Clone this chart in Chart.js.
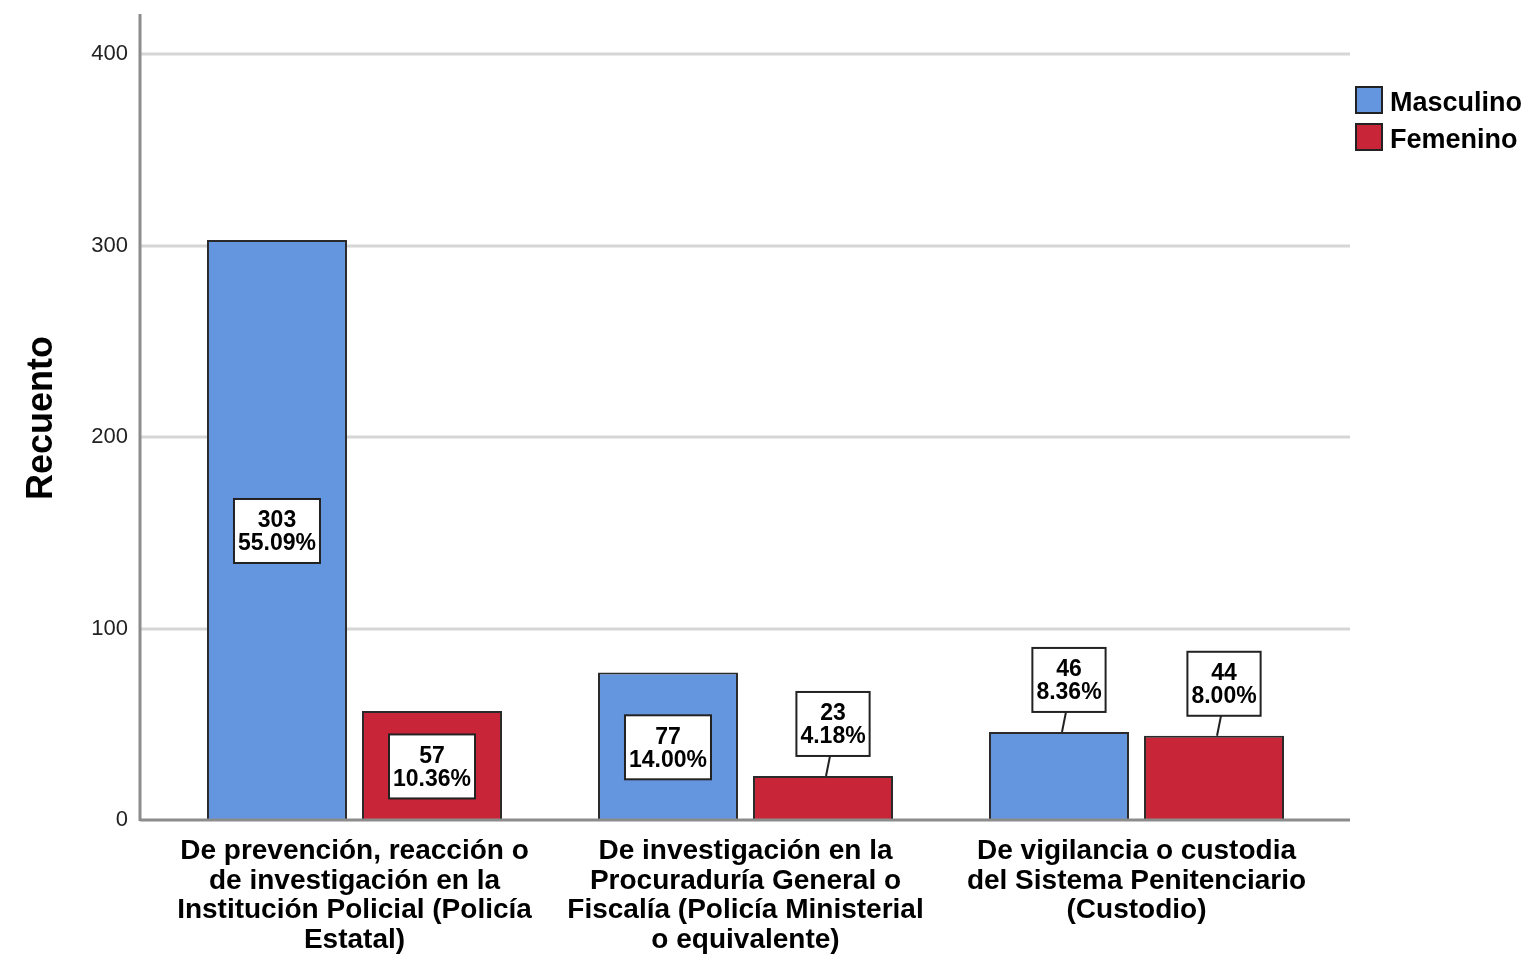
<!DOCTYPE html>
<html>
<head>
<meta charset="utf-8">
<script src="https://cdn.jsdelivr.net/npm/chart.js@4.4.1/dist/chart.umd.min.js"></script>
<style>
html, body { margin: 0; padding: 0; background: #fff; }
#wrap { width: 1527px; height: 955px; }
</style>
</head>
<body>
<div id="wrap"><canvas id="myChart" width="1527" height="955"></canvas></div>
<script>
const categories = [
    ['De prevención, reacción o', 'de investigación en la', 'Institución Policial (Policía', 'Estatal)'],
    ['De investigación en la', 'Procuraduría General o', 'Fiscalía (Policía Ministerial', 'o equivalente)'],
    ['De vigilancia o custodia', 'del Sistema Penitenciario', '(Custodio)']
];
const masculino = [303, 77, 46];
const femenino = [57, 23, 44];
const yTicks = [0, 100, 200, 300, 400];

const total = masculino.concat(femenino).reduce((a, b) => a + b, 0);
const FONT = '"Liberation Sans", Arial, sans-serif';
Chart.defaults.font.family = FONT;

// gridlines + axis lines, wider than the bar area (SPSS style)
const framePlugin = {
    id: 'frame',
    beforeDatasetsDraw(chart) {
        const ctx = chart.ctx;
        const y = chart.scales.y;
        ctx.save();
        ctx.strokeStyle = '#d6d6d6';
        ctx.lineWidth = 3;
        yTicks.forEach(v => {
            if (v === 0) return;
            const py = Math.round(y.getPixelForValue(v));
            ctx.beginPath();
            ctx.moveTo(140, py);
            ctx.lineTo(1350, py);
            ctx.stroke();
        });
        ctx.restore();
    },
    afterDatasetsDraw(chart) {
        const ctx = chart.ctx;
        const base = Math.round(chart.scales.y.getPixelForValue(0));
        ctx.save();
        ctx.strokeStyle = '#8c8c8c';
        ctx.lineWidth = 3;
        ctx.beginPath();
        ctx.moveTo(140, 14);
        ctx.lineTo(140, base + 1);
        ctx.moveTo(140, base);
        ctx.lineTo(1350, base);
        ctx.stroke();
        ctx.restore();
    }
};

// count + percent boxes
const boxPlugin = {
    id: 'boxes',
    afterDatasetsDraw(chart) {
        const ctx = chart.ctx;
        ctx.save();
        ctx.font = 'bold 23px ' + FONT;
        ctx.textAlign = 'center';
        ctx.textBaseline = 'middle';
        chart.data.datasets.forEach((ds, di) => {
            chart.getDatasetMeta(di).data.forEach((bar, i) => {
                const v = ds.data[i];
                const lines = [String(v), (v / total * 100).toFixed(2) + '%'];
                const w = Math.max(...lines.map(t => ctx.measureText(t).width)) + 8;
                const h = 64;
                const barH = bar.base - bar.y;
                let cx = bar.x, cy;
                if (barH >= h + 35) {
                    cy = (bar.y + bar.base) / 2 + 1;
                } else {
                    cx = bar.x + 10;
                    cy = bar.y - 20 - h / 2;
                    ctx.strokeStyle = '#222';
                    ctx.lineWidth = 2;
                    ctx.beginPath();
                    ctx.moveTo(cx - 3, cy + h / 2);
                    ctx.lineTo(cx - 7, bar.y);
                    ctx.stroke();
                }
                ctx.fillStyle = '#fff';
                ctx.fillRect(cx - w / 2, cy - h / 2, w, h);
                ctx.strokeStyle = '#222';
                ctx.lineWidth = 2;
                ctx.strokeRect(cx - w / 2, cy - h / 2, w, h);
                ctx.fillStyle = '#000';
                ctx.fillText(lines[0], cx, cy - 10);
                ctx.fillText(lines[1], cx, cy + 13);
            });
        });
        ctx.restore();
    }
};

// legend at the top right
const legendPlugin = {
    id: 'sideLegend',
    afterDraw(chart) {
        const ctx = chart.ctx;
        ctx.save();
        ctx.font = 'bold 27px ' + FONT;
        ctx.textBaseline = 'middle';
        chart.data.datasets.forEach((ds, i) => {
            const y0 = 87 + i * 37;
            ctx.fillStyle = ds.backgroundColor;
            ctx.fillRect(1356, y0, 26, 26);
            ctx.strokeStyle = '#222';
            ctx.lineWidth = 2;
            ctx.strokeRect(1356, y0, 26, 26);
            ctx.fillStyle = '#000';
            ctx.fillText(ds.label, 1390, y0 + 17);
        });
        ctx.restore();
    }
};

const ctx = document.getElementById('myChart').getContext('2d');
const myChart = new Chart(ctx, {
    type: 'bar',
    data: {
        labels: categories,
        datasets: [{
            label: 'Masculino',
            data: masculino,
            backgroundColor: '#6495df',
            borderColor: '#2a2a2a',
            borderWidth: 2
        }, {
            label: 'Femenino',
            data: femenino,
            backgroundColor: '#c82538',
            borderColor: '#2a2a2a',
            borderWidth: 2
        }]
    },
    options: {
        responsive: false,
        devicePixelRatio: 1,
        animation: false,
        layout: { padding: { top: 16, right: 195, left: 0, bottom: 0 } },
        datasets: {
            bar: { categoryPercentage: 0.793, barPercentage: 0.903 }
        },
        plugins: {
            legend: { display: false },
            tooltip: { enabled: false }
        },
        scales: {
            x: {
                offset: true,
                grid: { display: false, drawTicks: false },
                border: { display: false },
                ticks: {
                    color: '#000',
                    font: { size: 28, weight: 'bold', lineHeight: 1.05 },
                    padding: 17,
                    maxRotation: 0,
                    autoSkip: false
                },
                afterFit: s => { s.height = 135; s.paddingLeft = 0; s.paddingRight = 0; }
            },
            y: {
                min: 0,
                max: 420,
                afterBuildTicks: s => { s.ticks = yTicks.map(v => ({ value: v })); },
                grid: { display: false, drawTicks: false },
                border: { display: false },
                ticks: { color: '#222', font: { size: 22 }, padding: 31 },
                title: {
                    display: true,
                    text: 'Recuento',
                    color: '#000',
                    font: { size: 36, weight: 'bold' },
                    padding: { top: 20, bottom: 0 }
                },
                afterFit: s => { s.width = 159; s.paddingTop = 0; s.paddingBottom = 0; }
            }
        }
    },
    plugins: [framePlugin, boxPlugin, legendPlugin]
});
</script>
</body>
</html>
